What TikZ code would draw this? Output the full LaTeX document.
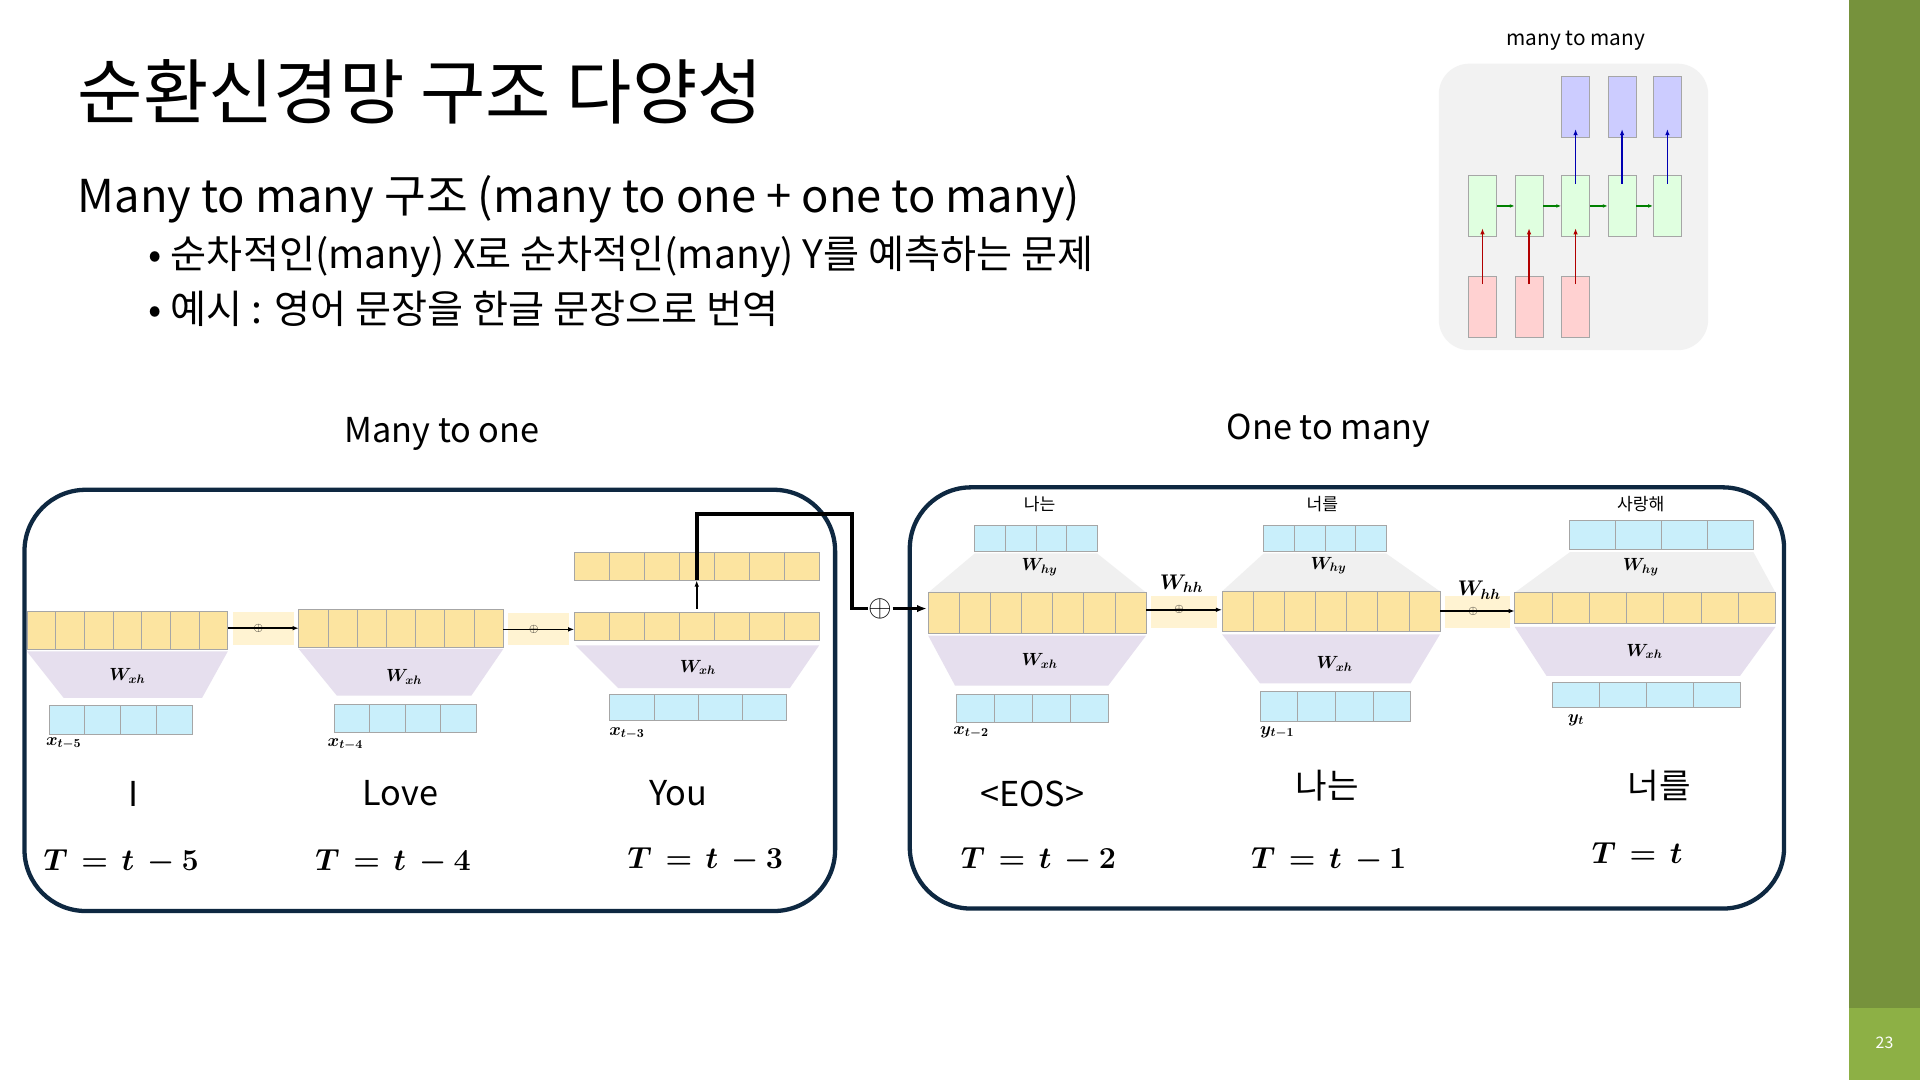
\documentclass[tikz,border=0pt]{standalone}
\usepackage{fontspec}
\usepackage{bm}
\setmainfont{Noto Sans CJK KR}
\usetikzlibrary{arrows.meta}
\definecolor{hyel}{HTML}{FCE4A0}
\definecolor{hblue}{HTML}{C9EFFB}
\definecolor{lav}{HTML}{E6DFEE}
\definecolor{navy}{HTML}{0E2841}
\definecolor{side}{HTML}{76923C}
\definecolor{side2}{HTML}{8DB045}
\definecolor{pl}{HTML}{FFF3D2}
\tikzset{
 frame/.style={draw=navy,line width=3.5pt,rounded corners=50pt},
 conn/.style={line width=2pt,-{Latex[length=8pt]}},
 thin/.style={line width=1.3pt,-{Latex[length=5pt]}},
 wl/.style={font=\fontsize{14}{14}\selectfont},
 word/.style={font=\fontsize{28}{30}\selectfont},
 tl/.style={font=\fontsize{24}{26}\selectfont},
}
\newcommand{\crow}[6]{%
 \fill[#6] (#1,#2) rectangle (#3,#4);
 \foreach \i in {1,...,#5}{\draw[gray!70,line width=0.6pt] ({#1+(#3-#1)*(\i-1)/#5},#2) rectangle ({#1+(#3-#1)*\i/#5},#4);}}
\begin{document}
\begin{tikzpicture}[x=1pt,y=-1pt]
\useasboundingbox (0,0) rectangle (1568,882);
\fill[white] (0,0) rectangle (1568,882);
\fill[side] (1510,0) rectangle (1568,882);
\fill[side2] (1510,823) rectangle (1568,882);
\node[white,font=\fontsize{13}{13}\selectfont] (pg) at (1539,852) {23};
% titles
\node[anchor=base west,font=\fontsize{58}{60}\selectfont] (title) at (60,97) {순환신경망 구조 다양성};
\node[anchor=west,font=\fontsize{37}{40}\selectfont] (sub) at (60,163) {Many to many 구조 (many to one + one to many)};
\node[anchor=west,font=\fontsize{32}{36}\selectfont] (b1) at (118,210) {• 순차적인(many) X로 순차적인(many) Y를 예측하는 문제};
\node[anchor=west,font=\fontsize{32}{36}\selectfont] (b2) at (118,252) {• 예시 : 영어 문장을 한글 문장으로 번역};
% mini diagram
\node[font=\fontsize{17}{17}\selectfont] (mm) at (1287,33) {many to many};
\fill[gray!10] (1175,52) [rounded corners=25pt] rectangle (1395,286);
\foreach \x/\n in {1199/1,1237/2,1275/3,1313/4,1350/5}{
 \node[draw=gray!70,fill=green!12,minimum width=23pt,minimum height=50pt,inner sep=0,anchor=north west] (g\n) at (\x,143) {};}
\foreach \x/\n in {1199/1,1237/2,1275/3}{
 \node[draw=gray!70,fill=red!18,minimum width=23pt,minimum height=50pt,inner sep=0,anchor=north west] (p\n) at (\x,225) {};
 \draw[red!70!black,line width=1pt,-{Latex[length=5pt]}] ([yshift=-7pt]p\n.north) -- ([yshift=7pt]g\n.south);}
\foreach \x/\n in {1275/3,1313/4,1350/5}{
 \node[draw=gray!70,fill=blue!20,minimum width=23pt,minimum height=50pt,inner sep=0,anchor=north west] (u\n) at (\x,62) {};
 \draw[blue!70!black,line width=1pt,-{Latex[length=5pt]}] ([yshift=-7pt]g\n.north) -- ([yshift=7pt]u\n.south);}
\foreach \a/\b in {1/2,2/3,3/4,4/5}{\draw[green!50!black,line width=1pt,-{Latex[length=4pt]}] (g\a.east) -- (g\b.west);}
% headings
\node[font=\fontsize{28}{30}\selectfont] (h1) at (361,354) {Many to one};
\node[font=\fontsize{28}{30}\selectfont] (h2) at (1085,352) {One to many};
% frames
\draw[frame] (20,400) rectangle (682,744);
\draw[frame] (743,398) rectangle (1457,742);
% ---- left
\fill[lav] (22,532) -- (186,532) -- (165,570) -- (52,570) -- cycle;
\fill[lav] (244,530) -- (411,530) -- (385,568) -- (275,568) -- cycle;
\fill[lav] (470,527) -- (669,527) -- (645,562) -- (505,562) -- cycle;
\fill[pl] (190,500) rectangle (240,527);
\fill[pl] (415,501) rectangle (465,527);
\crow{22}{499}{186}{530}{7}{hyel}
\crow{244}{498}{411}{529}{7}{hyel}
\crow{469}{500}{669}{523}{7}{hyel}
\crow{469}{451}{669}{474}{7}{hyel}
\crow{40}{576}{157}{600}{4}{hblue}
\crow{273}{575}{389}{598}{4}{hblue}
\crow{498}{567}{642}{588}{4}{hblue}
\node[wl] (w1) at (104,552) {$\bm{W_{xh}}$};
\node[wl] (w2) at (330,553) {$\bm{W_{xh}}$};
\node[wl] (w3) at (570,545) {$\bm{W_{xh}}$};
\node[wl] (x1) at (52,607) {$\bm{x_{t-5}}$};
\node[wl] (x2) at (282,608) {$\bm{x_{t-4}}$};
\node[wl] (x3) at (512,599) {$\bm{x_{t-3}}$};
\node (o1) at (211,513) {$\oplus$};
\node (o2) at (436,514) {$\oplus$};
\coordinate (e1) at (186,513); \coordinate (s2) at (244,513);
\coordinate (e2) at (411,514); \coordinate (s3) at (469,514);
\draw[thin] (e1) -- (s2);
\draw[thin] (e2) -- (s3);
\coordinate (up1) at (569,497); \coordinate (up2) at (569,474);
\draw[thin] (up1) -- (up2);
\node[font=\fontsize{26}{26}\selectfont,inner sep=0] (bo) at (719,497) {$\oplus$};
\coordinate (rs) at (757,497);
\draw[line width=3pt] (up2) -- (569,420) -- (696,420) -- (696,497) -- (bo.west);
\draw[conn,line width=3pt] (bo.east) -- (rs);
\node[word] (wI) at (109,648) {I};
\node[word] (wL) at (327,648) {Love};
\node[word] (wY) at (554,648) {You};
\node[tl] (t1) at (99,704) {$\bm{T\, =\, t\ -5}$};
\node[tl] (t2) at (321,704) {$\bm{T\, =\, t\ -4}$};
\node[tl] (t3) at (576,702) {$\bm{T\, =\, t\ -3}$};
% ---- right
\fill[gray!12] (796,452) -- (896,452) -- (936,484) -- (758,484) -- cycle;
\fill[gray!12] (1032,452) -- (1132,452) -- (1176,483) -- (998,483) -- cycle;
\fill[gray!12] (1282,451) -- (1432,451) -- (1450,484) -- (1237,484) -- cycle;
\fill[lav] (758,519) -- (936,519) -- (905,560) -- (780,560) -- cycle;
\fill[lav] (998,518) -- (1176,518) -- (1152,558) -- (1029,558) -- cycle;
\fill[lav] (1237,512) -- (1450,512) -- (1421,552) -- (1263,552) -- cycle;
\fill[pl] (940,487) rectangle (994,513);
\fill[pl] (1180,487) rectangle (1233,513);
\crow{758}{484}{936}{517}{7}{hyel}
\crow{998}{483}{1176}{516}{7}{hyel}
\crow{1237}{484}{1450}{509}{7}{hyel}
\crow{796}{429}{896}{450}{4}{hblue}
\crow{1032}{429}{1132}{450}{4}{hblue}
\crow{1282}{425}{1432}{449}{4}{hblue}
\crow{781}{567}{905}{590}{4}{hblue}
\crow{1029}{565}{1152}{589}{4}{hblue}
\crow{1268}{557}{1421}{578}{4}{hblue}
\node[wl] (k1) at (849,412) {나는};
\node[wl] (k2) at (1080,412) {너를};
\node[wl] (k3) at (1340,412) {사랑해};
\node[wl] (hy1) at (849,463) {$\bm{W_{hy}}$};
\node[wl] (hy2) at (1085,462) {$\bm{W_{hy}}$};
\node[wl] (hy3) at (1340,463) {$\bm{W_{hy}}$};
\node[wl] (xh1) at (849,540) {$\bm{W_{xh}}$};
\node[wl] (xh2) at (1090,542) {$\bm{W_{xh}}$};
\node[wl] (xh3) at (1343,532) {$\bm{W_{xh}}$};
\node[wl] (xa) at (793,598) {$\bm{x_{t-2}}$};
\node[wl] (ya) at (1043,598) {$\bm{y_{t-1}}$};
\node[wl] (yb) at (1287,588) {$\bm{y_{t}}$};
\node[font=\fontsize{17}{17}\selectfont] (hh1) at (965,477) {$\bm{W_{hh}}$};
\node[font=\fontsize{17}{17}\selectfont] (hh2) at (1208,482) {$\bm{W_{hh}}$};
\node (o3) at (963,498) {$\oplus$};
\node (o4) at (1203,499) {$\oplus$};
\coordinate (ea) at (936,498); \coordinate (sb) at (998,498);
\coordinate (eb) at (1176,499); \coordinate (sc) at (1237,499);
\draw[thin] (ea) -- (sb);
\draw[thin] (eb) -- (sc);
\node[word] (wE) at (843,648) {<EOS>};
\node[word] (wN) at (1084,642) {나는};
\node[word] (wR) at (1355,642) {너를};
\node[tl] (t4) at (848,702) {$\bm{T\, =\, t\ -2}$};
\node[tl] (t5) at (1085,702) {$\bm{T\, =\, t\ -1}$};
\node[tl] (t6) at (1337,697) {$\bm{T\, =\, t}$};
\end{tikzpicture}
\end{document}
